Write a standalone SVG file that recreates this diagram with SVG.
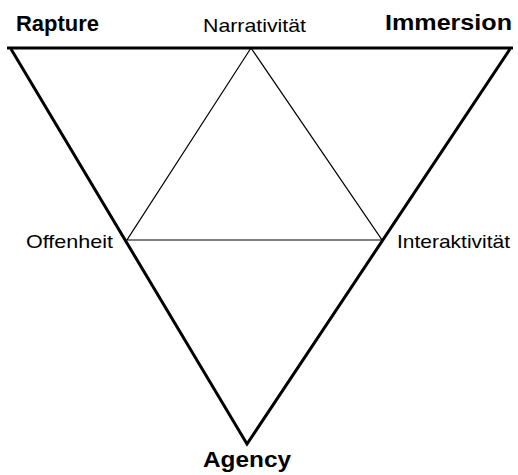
<svg xmlns="http://www.w3.org/2000/svg" width="518" height="475" viewBox="0 0 518 475">
  <style>
    .bg { fill: #ffffff; }
    .outer { fill: none; stroke: #000; stroke-width: 3; stroke-linejoin: miter; }
    .inner { fill: none; stroke: #000; stroke-width: 1.2; }
    .pole { font-family: "Liberation Sans", Arial, sans-serif; font-weight: bold; font-size: 22px; fill: #000; }
    .quality { font-family: "Liberation Sans", Arial, sans-serif; font-size: 19px; fill: #000; }
  </style>
  <rect class="bg" x="0" y="0" width="518" height="475"/>

  <g id="connectors">
    <!-- outer inverted triangle -->
    <line class="outer" x1="7" y1="48" x2="513" y2="48"/>
    <polyline class="outer" points="11,49 247,444 510,49"/>
    <!-- inner triangle -->
    <polygon class="inner" points="251,48 127,240 382,240"/>
  </g>

  <g id="rapture">
    <text class="pole" x="16" y="31" textLength="83" lengthAdjust="spacingAndGlyphs">Rapture</text>
  </g>
  <g id="immersion">
    <text class="pole" x="385" y="30" textLength="127" lengthAdjust="spacingAndGlyphs">Immersion</text>
  </g>
  <g id="agency">
    <text class="pole" x="203" y="467" textLength="88" lengthAdjust="spacingAndGlyphs">Agency</text>
  </g>
  <g id="narrativitaet">
    <text class="quality" x="203" y="32" textLength="103" lengthAdjust="spacingAndGlyphs">Narrativität</text>
  </g>
  <g id="offenheit">
    <text class="quality" x="26" y="248" textLength="87" lengthAdjust="spacingAndGlyphs">Offenheit</text>
  </g>
  <g id="interaktivitaet">
    <text class="quality" x="397" y="248" textLength="113" lengthAdjust="spacingAndGlyphs">Interaktivität</text>
  </g>
</svg>
